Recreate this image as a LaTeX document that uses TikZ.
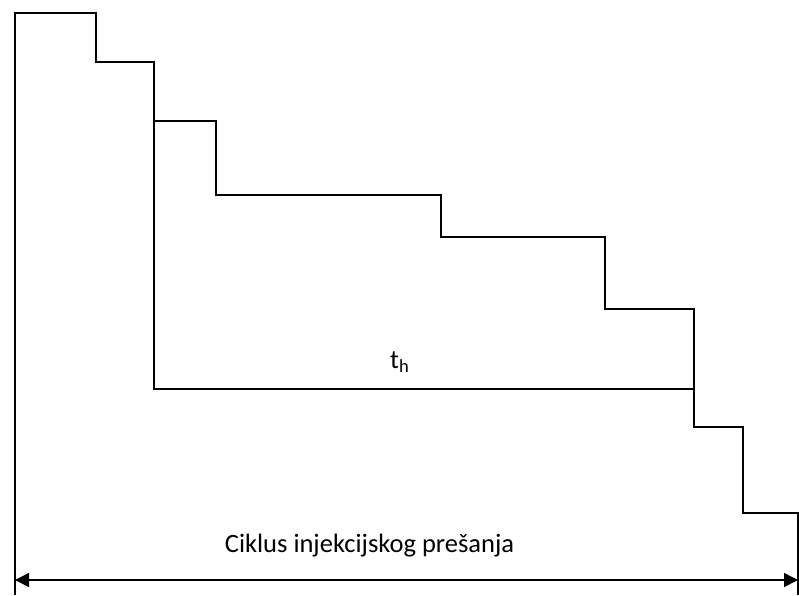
\documentclass[tikz,border=0pt]{standalone}
\usepackage{fontspec}
\setmainfont{Carlito}
\usetikzlibrary{arrows.meta}
\begin{document}
\begin{tikzpicture}[x=1pt,y=-1pt,
  line/.style={line width=1.5pt, line join=miter},
  dim/.style={line width=1.5pt, {Triangle[length=14pt,width=14pt]}-{Triangle[length=14pt,width=14pt]}},
  lbl/.style={font=\fontsize{26.5}{30}\selectfont, inner sep=0pt}]
\useasboundingbox (0,0) rectangle (799,595);
\coordinate (L) at (15,580);
\coordinate (R) at (798,580);
\draw[line] (15,595) -- (15,13) -- (96,13) -- (96,62) -- (154,62) -- (154,389) -- (694,389);
\draw[line] (154,121) -- (216,121) -- (216,195) -- (441,195) -- (441,237) -- (605,237) -- (605,309) -- (694,309) -- (694,427) -- (743,427) -- (743,513) -- (798,513) -- (798,595);
\draw[dim] (L) -- (R);
\node[lbl, anchor=base] (cik) at (369.5,552) {Ciklus injekcijskog prešanja};
\node[lbl, anchor=base west] (th) at (390,368) {t\textsubscript{h}};
\end{tikzpicture}
\end{document}
